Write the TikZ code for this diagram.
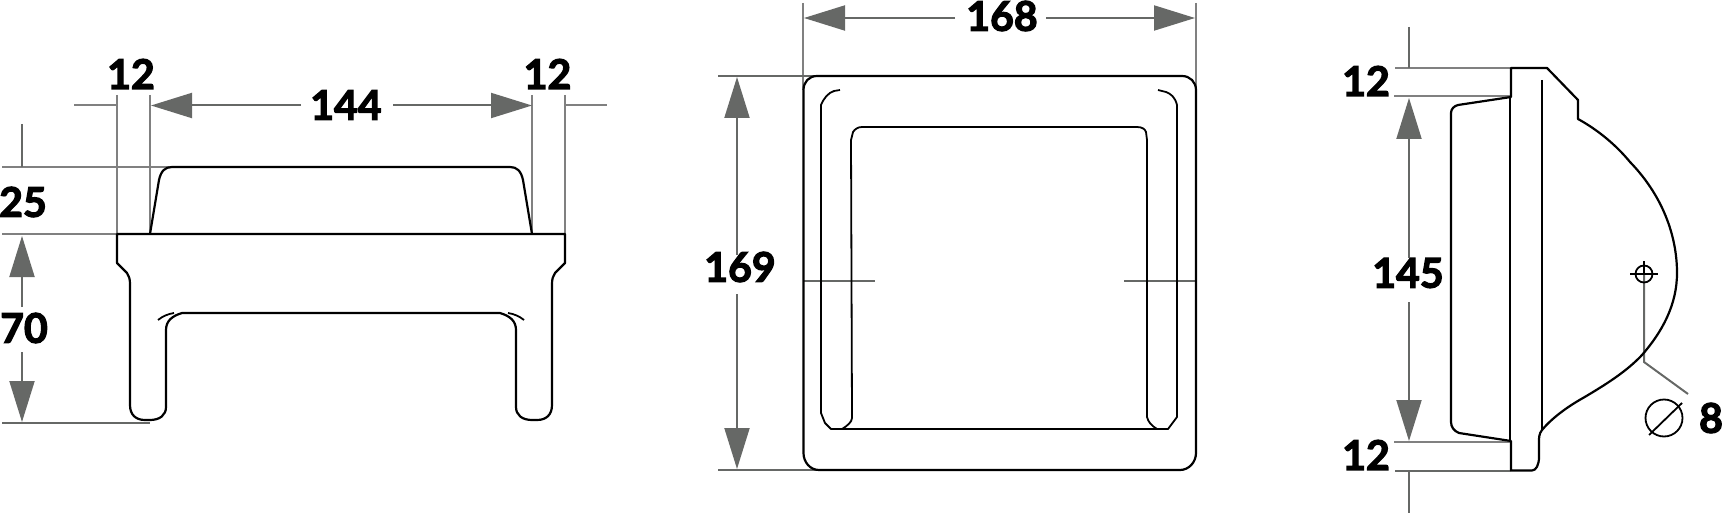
\documentclass[tikz,border=0pt]{standalone}
\usepackage{fontspec}
\setmainfont{Lato}[BoldFeatures={FakeBold=3}]
\usetikzlibrary{arrows.meta}
\definecolor{dimgrey}{HTML}{666866}
\definecolor{extgrey}{HTML}{808080}
\tikzset{
  part/.style={draw=black,line width=2.2pt,line join=round,fill=none},
  thinpart/.style={draw=black,line width=1.8pt,line join=round,fill=none},
  extline/.style={draw=extgrey,line width=2pt},
  dimline/.style={draw=dimgrey,line width=2pt,-{Triangle[length=41pt,width=25pt,fill=dimgrey]}},
  plainline/.style={draw=dimgrey,line width=2pt},
  dimtext/.style={inner sep=0pt,text=black,font=\fontsize{41}{41}\selectfont\bfseries,anchor=center}
}
\begin{document}
\begin{tikzpicture}[x=1pt,y=-1pt]
\useasboundingbox (0,0) rectangle (1724,513);
% ---- left view: dimension lines
\draw[extline] (117,95) -- (117,236);
\draw[extline] (150,95) -- (150,234);
\draw[extline] (532,95) -- (532,234);
\draw[extline] (565,95) -- (565,234);
\draw[extline] (2,167) -- (190,167);
\draw[extline] (2,234) -- (117,234);
\draw[plainline] (2,423) -- (150,423);
\draw[plainline] (22,124) -- (22,167);
\draw[extline] (74,105.5) -- (117,105.5);
\draw[extline] (565,105.5) -- (607,105.5);
\draw[dimline] (301,105.5) -- (151,105.5);
\draw[dimline] (393,105.5) -- (532,105.5);
\draw[dimline] (22,307) -- (22,236);
\draw[dimline] (22,352) -- (22,422);
% ---- left view: outline
\draw[part] (150,234) -- (159,180) .. controls (161,171) and (165,167) .. (172,167)
  -- (510,167) .. controls (517,167) and (521,171) .. (523,180) -- (532,234);
\draw[part] (117,234) -- (565,234) -- (565,263) -- (555,273)
  .. controls (553,276) and (552,279) .. (552,284) -- (552,405)
  .. controls (552,415) and (546,420) .. (537,420) -- (532,420)
  .. controls (522,420) and (516,415) .. (516,407) -- (516,330)
  .. controls (516,321) and (510,316) .. (500,313) -- (182,313)
  .. controls (172,316) and (166,321) .. (166,330) -- (166,407)
  .. controls (166,415) and (160,420) .. (150,420) -- (145,420)
  .. controls (136,420) and (130,415) .. (130,405) -- (130,284)
  .. controls (130,279) and (129,276) .. (127,273) -- (117,263) -- cycle;
\draw[thinpart] (158,320) .. controls (163,316) and (168,314) .. (174,313);
\draw[thinpart] (524,320) .. controls (519,316) and (514,314) .. (508,313);
\node[dimtext] (wa) at (131,74) {12};
\node[dimtext] (wb) at (346,105) {144};
\node[dimtext] (wc) at (547.5,74) {12};
\node[dimtext] (wd) at (23,202) {25};
\node[dimtext] (we) at (24,328) {70};
% ---- centre view: dimension lines
\draw[extline] (803,3) -- (803,90);
\draw[extline] (1196,3) -- (1196,90);
\draw[plainline] (718,76) -- (815,76);
\draw[plainline] (718,469.5) -- (818,469.5);
\draw[dimline] (955,18) -- (804,18);
\draw[dimline] (1046,18) -- (1195,18);
\draw[dimline] (737,255) -- (737,77);
\draw[dimline] (737,294) -- (737,469);
\draw[plainline] (803,280.5) -- (875,280.5);
\draw[plainline] (1124,280.5) -- (1196,280.5);
% ---- centre view: outline
\draw[part] (803.5,90) .. controls (803.5,82) and (809,76) .. (817,76) -- (1182,76)
  .. controls (1190,76) and (1196,82) .. (1196,90) -- (1196,453)
  .. controls (1196,462) and (1189,470) .. (1180,470) -- (819,470)
  .. controls (810,470) and (803.5,462) .. (803.5,453) -- cycle;
\draw[thinpart] (840,90) -- (834,91) .. controls (828,93) and (824,98) .. (821,105) -- (821,413)
  -- (825,423) -- (831,429) -- (1168,429) -- (1177,417) -- (1177,105)
  .. controls (1175,97) and (1171,94) .. (1166,92) -- (1158,90);
\draw[thinpart] (842,429) .. controls (847,426) and (852,422) .. (852,418) -- (851,140)
  -- (853,132) .. controls (855,129) and (858,127) .. (862,127) -- (1137,127)
  .. controls (1142,127) and (1145,129) .. (1146,132) -- (1147,140) -- (1147,417)
  .. controls (1148,422) and (1152,426) .. (1157,429);
\node[dimtext] (wf) at (1002,16) {168};
\node[dimtext] (wg) at (740,267) {169};
% ---- right view: dimension lines
\draw[extline] (1395,68) -- (1511,68);
\draw[extline] (1394,96.5) -- (1511,96.5);
\draw[extline] (1394,441.5) -- (1511,441.5);
\draw[plainline] (1395,470.5) -- (1511,470.5);
\draw[plainline] (1409,27) -- (1409,68);
\draw[plainline] (1409,470) -- (1409,513);
\draw[dimline] (1409,258) -- (1409,98);
\draw[dimline] (1409,302) -- (1409,441);
\draw[plainline] (1644,274) -- (1644,362) -- (1688,394);
% ---- right view: outline
\draw[part] (1511,97) -- (1511,68) -- (1547,68) -- (1578,100) -- (1578,119)
  .. controls (1598,130) and (1616,145) .. (1630,162)
  .. controls (1662,195) and (1677,235) .. (1677,273)
  .. controls (1677,305) and (1662,332) .. (1642,355)
  .. controls (1626,372) and (1605,385) .. (1583,398)
  .. controls (1567,407) and (1552,418) .. (1542,430)
  .. controls (1539,434) and (1539,437) .. (1539,442) -- (1539,457)
  .. controls (1539,465) and (1536,470.5) .. (1532,470.5)
  -- (1511,470.5) -- (1511,441) -- (1459,433)
  .. controls (1454,431) and (1451,427) .. (1451,422) -- (1451,113)
  .. controls (1451,109) and (1454,106) .. (1458,105) -- cycle;
\draw[part] (1510,97) -- (1510,441);
\draw[thinpart] (1542,80) -- (1542,430);
\draw[thinpart] (1644,274) circle[radius=8.5];
\draw[thinpart] (1630,274) -- (1658,274);
\draw[thinpart] (1644,261) -- (1644,274);
\draw[thinpart] (1664,418) circle[radius=18.5];
\draw[thinpart] (1649,435) -- (1682,403);
\node[dimtext] (wh) at (1366,81) {12};
\node[dimtext] (wi) at (1408,273) {145};
\node[dimtext] (wj) at (1366,455) {12};
\node[dimtext] (wk) at (1711,418) {8};
\end{tikzpicture}
\end{document}
